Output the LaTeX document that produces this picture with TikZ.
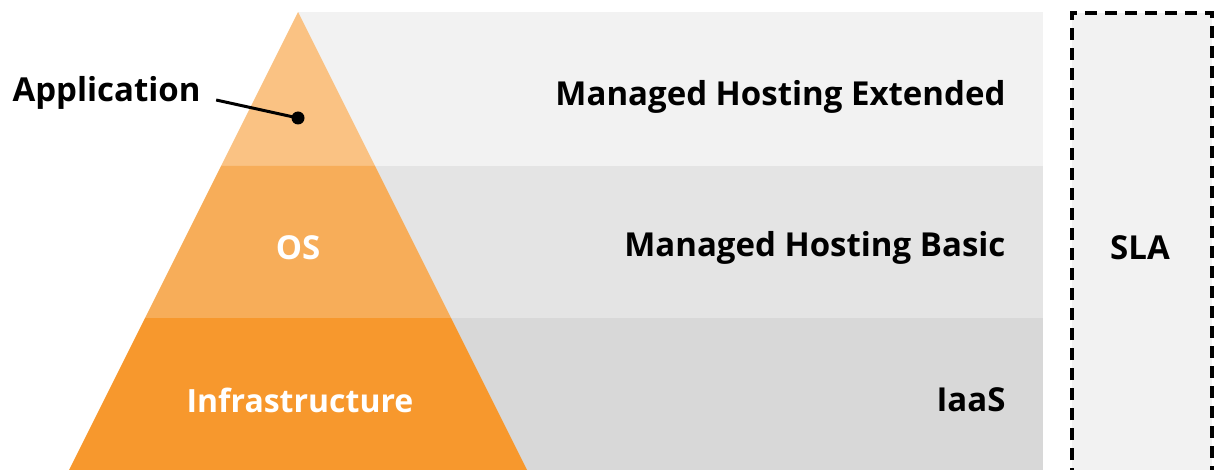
\documentclass[tikz,border=0pt]{standalone}
\usepackage{fontspec}
\setmainfont{Open Sans}
\usepackage{tikz}
\usetikzlibrary{positioning}
\definecolor{app}{HTML}{FAC283}
\definecolor{os}{HTML}{F7AD59}
\definecolor{infra}{HTML}{F7982D}
\definecolor{grayA}{HTML}{F2F2F2}
\definecolor{grayB}{HTML}{E4E4E4}
\definecolor{grayC}{HTML}{D8D8D8}
\tikzset{
  service/.style={anchor=east, font=\fontsize{33}{40}\selectfont\bfseries},
  layer/.style={text=white, font=\fontsize{33}{40}\selectfont\bfseries}
}

\begin{document}
\begin{tikzpicture}[x=1pt, y=-1pt]
		\useasboundingbox (0,0) rectangle (1214,470);
		
		% grey bands
		\fill[grayA] (298,12) rectangle (1043,166);
		\fill[grayB] (298,166) rectangle (1043,318);
		\fill[grayC] (298,318) rectangle (1043,470);
		
		% pyramid
		\fill[app] (298,12) -- (375,166) -- (221,166) -- cycle;
		\fill[os] (221,166) -- (375,166) -- (451,318) -- (145,318) -- cycle;
		\fill[infra] (145,318) -- (451,318) -- (527,470) -- (69,470) -- cycle;
		
		\node[service] (ext) at (1009,97) {Managed Hosting Extended};
		\node[service] (basic) at (1009,248) {Managed Hosting Basic};
		\node[service] (iaas) at (1009,400) {IaaS};
		
		\node[layer] (os) at (298,248) {OS};
		\node[layer, font=\fontsize{32}{40}\selectfont\bfseries] (infra) at (300,400) {Infrastructure};
		
		% SLA box
		\draw[fill=grayA, line width=3.2pt, dash pattern=on 12pt off 8pt] (1072,480) -- (1072,13) -- (1212,13) -- (1212,480);
		\node[service, anchor=center] (sla) at (1140,248) {SLA};
		
		\node[service, anchor=west] (app) at (9,93) {Application};
		\coordinate (app-dot) at (298,118);
		\fill (app-dot) circle (6.5);
		\draw[line width=3pt] (app.east) ++(12,7) coordinate (app-end) -- (app-dot);
		
	\end{tikzpicture}
\end{document}
